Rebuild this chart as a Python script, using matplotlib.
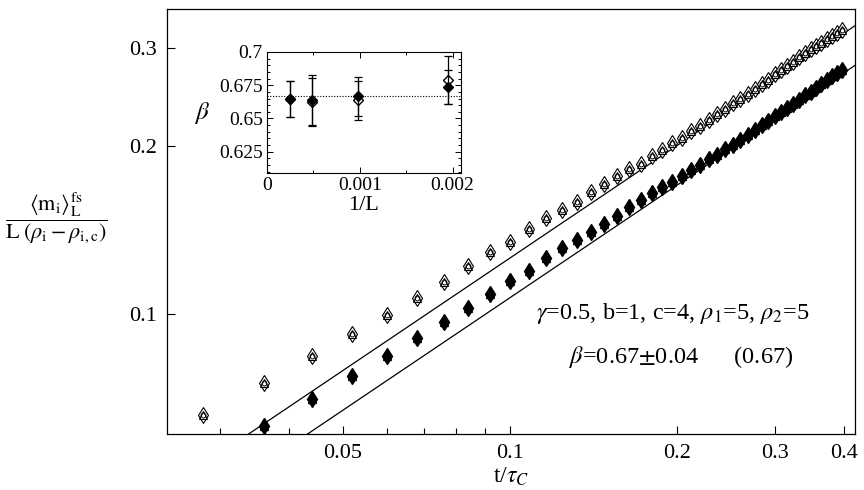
"""Finite-size scaling plot: <m_i>_L^fs / L(rho_i - rho_i,c) vs t/tau_C with beta inset."""
import matplotlib
matplotlib.use("Agg")
import numpy as np
import matplotlib.pyplot as plt
from matplotlib.ticker import FixedLocator, NullFormatter, FixedFormatter, MultipleLocator

plt.rcParams["font.family"] = ["Liberation Serif", "DejaVu Serif"]
plt.rcParams["mathtext.fontset"] = "stix"

# main data
t_upper = [0.028, 0.036, 0.044, 0.052, 0.060, 0.068, 0.076, 0.084, 0.092, 0.100,
           0.108, 0.116, 0.124, 0.132, 0.140, 0.148, 0.156, 0.164, 0.172, 0.180,
           0.188, 0.196, 0.204, 0.212, 0.220, 0.228, 0.236, 0.244, 0.252, 0.260,
           0.268, 0.276, 0.284, 0.292, 0.300, 0.308, 0.316, 0.324, 0.332, 0.340,
           0.348, 0.356, 0.364, 0.372, 0.380, 0.388, 0.396]
m_upper = [0.0659, 0.0751, 0.0841, 0.0921, 0.0996, 0.1067, 0.1142, 0.1218, 0.1293, 0.1348,
           0.1418, 0.1484, 0.1536, 0.1590, 0.1657, 0.1712, 0.1765, 0.1818, 0.1860, 0.1922,
           0.1967, 0.2023, 0.2070, 0.2131, 0.2172, 0.2227, 0.2283, 0.2334, 0.2386, 0.2426,
           0.2476, 0.2531, 0.2579, 0.2627, 0.2689, 0.2737, 0.2783, 0.2833, 0.2884, 0.2932,
           0.2981, 0.3022, 0.3063, 0.3105, 0.3145, 0.3185, 0.3225]
t_lower = t_upper[1:]
m_lower = [0.0630, 0.0704, 0.0774, 0.0841, 0.0905, 0.0965, 0.1024, 0.1086, 0.1143,
           0.1196, 0.1258, 0.1311, 0.1357, 0.1404, 0.1449, 0.1500, 0.1552, 0.1600, 0.1645,
           0.1685, 0.1722, 0.1770, 0.1810, 0.1850, 0.1893, 0.1930, 0.1975, 0.2012, 0.2050,
           0.2093, 0.2140, 0.2180, 0.2215, 0.2260, 0.2300, 0.2338, 0.2380, 0.2418, 0.2465,
           0.2503, 0.2545, 0.2580, 0.2628, 0.2665, 0.2700, 0.2735]

# power-law fits  A * t^beta
beta_fit = 0.67
fit_prefactors = [0.589, 0.50]

# inset data
inv_L = [0.000244, 0.000488, 0.000977, 0.00195]
beta_full = [0.6644, 0.6640, 0.6667, 0.6737]
beta_full_err = [0.0135, 0.0190, 0.0145, 0.0130]
beta_open = [0.6644, 0.6624, 0.6636, 0.6788]
beta_open_err = [0.0135, 0.0178, 0.0148, 0.0180]
beta_ref = 0.6667

x_major = [0.05, 0.1, 0.2, 0.3, 0.4]
x_minor = [0.03, 0.04, 0.06, 0.07, 0.08, 0.09]
y_major = [0.1, 0.2, 0.3]

fig = plt.figure(figsize=(8.64, 4.9), dpi=100)
ax = fig.add_axes([0.1933, 0.1143, 0.7963, 0.8673])
ax.set_xscale("log"); ax.set_yscale("log")
ax.set_xlim(0.0241, 0.4185); ax.set_ylim(0.0609, 0.352)

# upper set (open symbols)
ax.plot(t_upper, m_upper, ls="none", marker="d", ms=8, mfc="white", mec="black", mew=0.8, zorder=3)
ax.plot(t_upper, m_upper, ls="none", marker="^", ms=6, mfc="none", mec="black", mew=0.8, zorder=4)
ax.plot(t_upper, m_upper, ls="none", marker="o", ms=3.5, mfc="none", mec="black", mew=0.7, zorder=4)
# lower set (filled symbols)
ax.plot(t_lower, m_lower, ls="none", marker="d", ms=8, mfc="black", mec="black", zorder=3)
ax.plot(t_lower, m_lower, ls="none", marker="^", ms=6, mfc="black", mec="black", zorder=3)

tt = np.array([0.0241, 0.4185])
for a in fit_prefactors:
    ax.plot(tt, a * tt ** beta_fit, color="black", lw=0.9, zorder=2)

ax.xaxis.set_major_locator(FixedLocator(x_major))
ax.xaxis.set_major_formatter(FixedFormatter([f"{v:g}" for v in x_major]))
ax.xaxis.set_minor_locator(FixedLocator(x_minor))
ax.xaxis.set_minor_formatter(NullFormatter())
ax.yaxis.set_major_locator(FixedLocator(y_major))
ax.yaxis.set_major_formatter(FixedFormatter([f"{v:g}" for v in y_major]))
ax.yaxis.set_minor_locator(FixedLocator([]))
ax.tick_params(which="both", direction="in", labelsize=16, width=0.8)
ax.tick_params(which="major", length=6, pad=7)
ax.tick_params(which="minor", length=4)
for s in ax.spines.values():
    s.set_linewidth(0.9)

ax.set_xlabel(r"t/$\tau_C$", fontsize=17, labelpad=2)
fig.text(0.065, 0.555,
         r"$\dfrac{\langle \mathrm{m_i}\rangle_\mathrm{L}^\mathrm{fs}}{\mathrm{L}\;(\rho_\mathrm{i}-\rho_\mathrm{i,c})}$",
         ha="center", va="center", fontsize=16)

ax.text(0.7355, 0.2847, r"$\gamma$=0.5, b=1, c=4, $\rho_1$=5, $\rho_2$=5", transform=ax.transAxes,
        ha="center", va="center", fontsize=17.5)
ax.text(0.748, 0.181, r"$\beta$=0.67$\pm$0.04      (0.67)", transform=ax.transAxes,
        ha="center", va="center", fontsize=17.5)

# inset
ins = fig.add_axes([0.309, 0.6469, 0.2245, 0.247])
ins.set_xlim(0, 0.00209); ins.set_ylim(0.609, 0.7)
ins.axhline(beta_ref, color="black", lw=0.8, ls=(0, (1, 1.5)), zorder=1)
ins.errorbar(inv_L, beta_open, yerr=beta_open_err, fmt="D", ms=5, mfc="white", mec="black",
             ecolor="black", elinewidth=0.9, capsize=3, capthick=0.9, zorder=3)
ins.errorbar(inv_L, beta_full, yerr=beta_full_err, fmt="D", ms=5, mfc="black", mec="black",
             ecolor="black", elinewidth=0.9, capsize=3, capthick=0.9, zorder=4)
ins.set_xticks([0, 0.001, 0.002])
ins.set_xticklabels(["0", "0.001", "0.002"])
ins.xaxis.set_minor_locator(MultipleLocator(0.0005))
ins.set_yticks([0.625, 0.65, 0.675, 0.7])
ins.set_yticklabels(["0.625", "0.65", "0.675", "0.7"])
ins.yaxis.set_minor_locator(MultipleLocator(0.005))
ins.tick_params(which="both", direction="in", top=True, right=True, labelsize=14, width=0.7)
ins.tick_params(which="major", length=4, pad=3)
ins.tick_params(which="minor", length=2)
ins.set_xlabel("1/L", fontsize=16, labelpad=1)
ins.set_ylabel(r"$\beta$", fontsize=18, rotation=0, labelpad=12, va="center")

fig.savefig("out.png", dpi=100, facecolor="white")
